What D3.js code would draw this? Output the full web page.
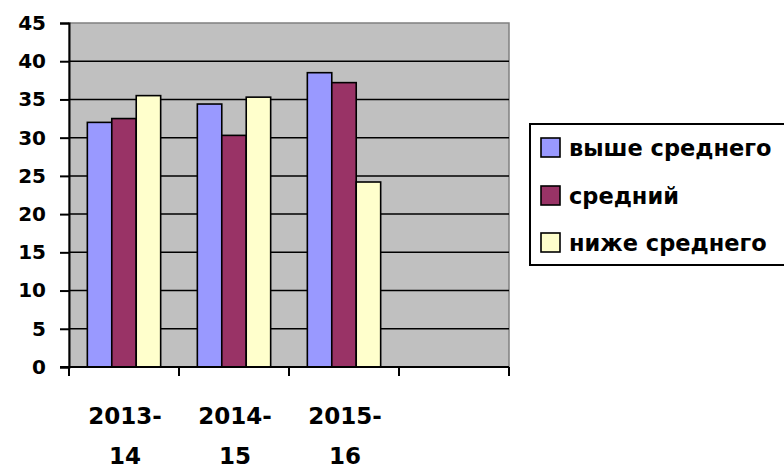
<!DOCTYPE html>
<html>
<head>
<meta charset="utf-8">
<script src="https://cdn.jsdelivr.net/npm/d3@7"></script>
<style>
  body { margin: 0; background: #fff; }
  svg { display: block; }
  text { font-family: "DejaVu Sans", sans-serif; font-weight: bold; fill: #000; }
</style>
</head>
<body>
<div id="chart"></div>
<script>
const categories = ['2013-14', '2014-15', '2015-16', '']
const catLines = [['2013-', '14'], ['2014-', '15'], ['2015-', '16'], []]
const seriesNames = ['выше среднего', 'средний', 'ниже среднего']
const seriesColors = ['#9999FF', '#993366', '#FFFFCC']
const above = [32, 34.4, 38.5]
const middle = [32.5, 30.3, 37.2]
const below = [35.5, 35.3, 24.2]
const yTicks = [0, 5, 10, 15, 20, 25, 30, 35, 40, 45]

const width = 784
const height = 468
const plot = { left: 69, right: 509, top: 23, bottom: 367 }

const svg = d3.select('#chart')
    .append('svg')
    .attr('width', width)
    .attr('height', height)

const x = d3.scaleBand()
    .domain(categories)
    .range([plot.left, plot.right])

const bw = x.bandwidth()
const gap = bw * 1.5 / 4.5
const xs = d3.scaleBand()
    .domain(seriesNames)
    .range([gap / 2, bw - gap / 2])

const y = d3.scaleLinear()
    .domain([0, 45])
    .range([plot.bottom, plot.top])

// plot background
svg.append('rect')
    .attr('x', plot.left)
    .attr('y', plot.top)
    .attr('width', plot.right - plot.left)
    .attr('height', plot.bottom - plot.top)
    .style('fill', '#C0C0C0')
    .style('stroke', '#808080')
    .style('stroke-width', 1.5)

// gridlines
svg.append('g')
    .selectAll('line')
    .data(yTicks.filter(d => d > 0 && d < 45))
    .join('line')
    .attr('x1', plot.left)
    .attr('x2', plot.right)
    .attr('y1', d => y(d))
    .attr('y2', d => y(d))
    .style('stroke', '#000')
    .style('stroke-width', 1.5)

// bars
const rows = categories.slice(0, 3).flatMap((c, i) => [
    { cat: c, s: seriesNames[0], v: above[i], color: seriesColors[0] },
    { cat: c, s: seriesNames[1], v: middle[i], color: seriesColors[1] },
    { cat: c, s: seriesNames[2], v: below[i], color: seriesColors[2] }
])

svg.append('g')
    .selectAll('rect')
    .data(rows)
    .join('rect')
    .attr('x', d => x(d.cat) + xs(d.s))
    .attr('y', d => y(d.v))
    .attr('width', xs.bandwidth())
    .attr('height', d => y(0) - y(d.v))
    .style('fill', d => d.color)
    .style('stroke', '#000')
    .style('stroke-width', 1.6)

// y axis
const yAxis = svg.append('g')
    .attr('transform', `translate(${plot.left},0)`)
    .call(d3.axisLeft(y).tickValues(yTicks).tickSize(9).tickPadding(14))
yAxis.attr('font-family', null).attr('font-size', null)
yAxis.select('.domain').style('stroke', '#000').style('stroke-width', 2)
yAxis.selectAll('.tick line').style('stroke', '#000').style('stroke-width', 2)
yAxis.selectAll('text')
    .style('font-size', '20px')

// x axis
const xTickPos = categories.map(c => x(c)).concat([plot.right])
const xAxisG = svg.append('g')
svg.append('line')
    .attr('x1', plot.left - 9)
    .attr('x2', plot.right)
    .attr('y1', plot.bottom)
    .attr('y2', plot.bottom)
    .style('stroke', '#000')
    .style('stroke-width', 2)
xAxisG.selectAll('line')
    .data(xTickPos)
    .join('line')
    .attr('x1', d => d)
    .attr('x2', d => d)
    .attr('y1', plot.bottom)
    .attr('y2', plot.bottom + 9)
    .style('stroke', '#000')
    .style('stroke-width', 2)

const xLabels = svg.append('g')
    .selectAll('text')
    .data(categories)
    .join('text')
    .attr('x', d => x(d) + bw / 2 + 1)
    .attr('y', 424)
    .attr('text-anchor', 'middle')
    .style('font-size', '23px')
xLabels.each(function (d, i) {
    d3.select(this).selectAll('tspan')
        .data(catLines[i])
        .join('tspan')
        .attr('x', x(d) + bw / 2 + 1)
        .attr('dy', (t, j) => j === 0 ? 0 : 40)
        .text(t => t)
})

// legend
svg.append('rect')
    .attr('x', 530)
    .attr('y', 124)
    .attr('width', 300)
    .attr('height', 141)
    .style('fill', '#fff')
    .style('stroke', '#000')
    .style('stroke-width', 2)

const legendY = [148, 196, 243]
seriesNames.forEach((name, i) => {
    svg.append('rect')
        .attr('x', 541)
        .attr('y', legendY[i] - 10)
        .attr('width', 19)
        .attr('height', 19)
        .style('fill', seriesColors[i])
        .style('stroke', '#000')
        .style('stroke-width', 1.6)
    svg.append('text')
        .attr('x', 569)
        .attr('y', legendY[i] + 8)
        .style('font-size', '22.5px')
        .text(name)
})
</script>
</body>
</html>
